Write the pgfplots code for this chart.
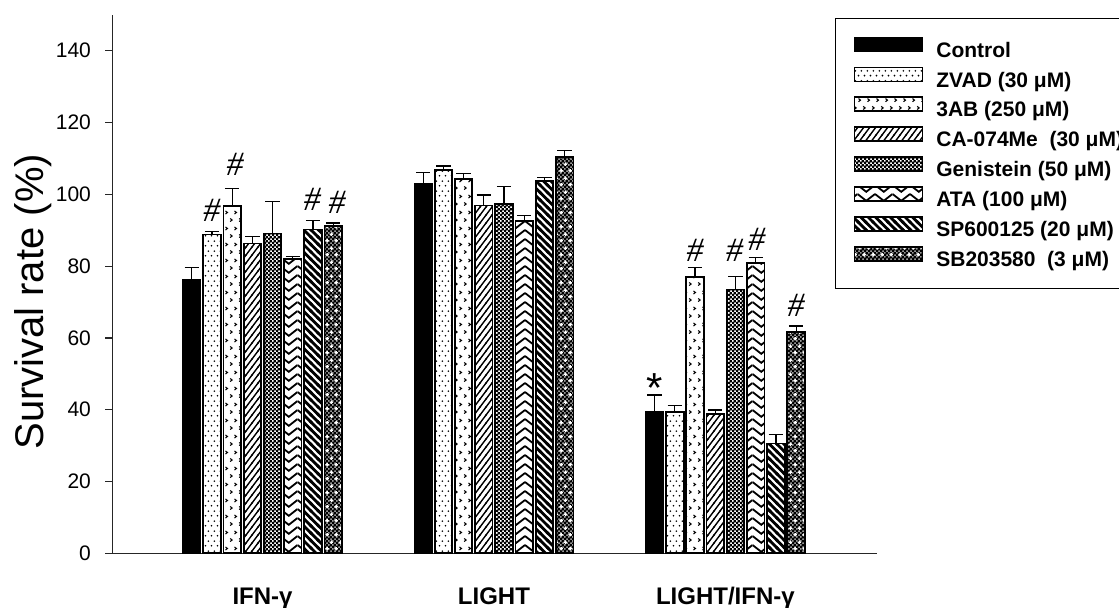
\documentclass[border=0pt]{standalone}
\usepackage{fontspec}
\setmainfont{Liberation Sans}
\newfontfamily\timesf{Liberation Serif}
\usepackage{pgfplots}
\pgfplotsset{compat=1.18}
\usetikzlibrary{patterns}

% ---------- patterns ----------
\pgfdeclarepatternformonly{zvaddots}{\pgfpointorigin}{\pgfpoint{3.2pt}{5pt}}{\pgfpoint{3.2pt}{5pt}}{%
  \pgfpathcircle{\pgfpoint{0.8pt}{1.25pt}}{0.5pt}%
  \pgfpathcircle{\pgfpoint{2.4pt}{3.75pt}}{0.5pt}%
  \pgfusepath{fill}}
\pgfdeclarepatternformonly{tabchev}{\pgfpointorigin}{\pgfpoint{4.4pt}{8pt}}{\pgfpoint{4.4pt}{8pt}}{%
  \pgfsetlinewidth{0.55pt}%
  \pgfpathmoveto{\pgfpoint{0.6pt}{2.9pt}}\pgfpathlineto{\pgfpoint{1.6pt}{2.1pt}}\pgfpathlineto{\pgfpoint{0.6pt}{1.3pt}}%
  \pgfpathmoveto{\pgfpoint{2.8pt}{6.9pt}}\pgfpathlineto{\pgfpoint{3.8pt}{6.1pt}}\pgfpathlineto{\pgfpoint{2.8pt}{5.3pt}}%
  \pgfusepath{stroke}}
\pgfdeclarepatternformonly{calines}{\pgfpoint{-0.5pt}{-0.5pt}}{\pgfpoint{3.5pt}{4.5pt}}{\pgfpoint{3pt}{4pt}}{%
  \pgfsetlinewidth{0.7pt}%
  \pgfpathmoveto{\pgfpoint{-0.3pt}{-0.4pt}}\pgfpathlineto{\pgfpoint{3.3pt}{4.4pt}}%
  \pgfusepath{stroke}}
\pgfdeclarepatternformonly{gencheck}{\pgfpointorigin}{\pgfpoint{2pt}{2pt}}{\pgfpoint{2pt}{2pt}}{%
  \pgfpathrectangle{\pgfpointorigin}{\pgfpoint{1.35pt}{1.35pt}}%
  \pgfpathrectangle{\pgfpoint{1pt}{1pt}}{\pgfpoint{1.35pt}{1.35pt}}%
  \pgfusepath{fill}}
\pgfdeclarepatternformonly{atav}{\pgfpoint{0pt}{-0.5pt}}{\pgfpoint{8.75pt}{5pt}}{\pgfpoint{8.75pt}{4.5pt}}{%
  \pgfsetlinewidth{0.9pt}%
  \pgfpathmoveto{\pgfpoint{0pt}{4pt}}\pgfpathlineto{\pgfpoint{4.375pt}{0.6pt}}\pgfpathlineto{\pgfpoint{8.75pt}{4pt}}%
  \pgfusepath{stroke}}
\pgfdeclarepatternformonly{splines}{\pgfpoint{-1pt}{-1pt}}{\pgfpoint{4.7pt}{4.7pt}}{\pgfpoint{3.7pt}{3.7pt}}{%
  \pgfsetlinewidth{1.4pt}%
  \pgfpathmoveto{\pgfpoint{-0.5pt}{4.2pt}}\pgfpathlineto{\pgfpoint{4.2pt}{-0.5pt}}%
  \pgfusepath{stroke}}
\pgfdeclarepatternformonly{sbstars}{\pgfpointorigin}{\pgfpoint{4.4pt}{7pt}}{\pgfpoint{4.4pt}{7pt}}{%
  \pgfsetlinewidth{0.7pt}%
  \pgfpathmoveto{\pgfpoint{0.2pt}{1.75pt}}\pgfpathlineto{\pgfpoint{2.0pt}{1.75pt}}%
  \pgfpathmoveto{\pgfpoint{1.1pt}{0.85pt}}\pgfpathlineto{\pgfpoint{1.1pt}{2.65pt}}%
  \pgfpathmoveto{\pgfpoint{2.4pt}{5.25pt}}\pgfpathlineto{\pgfpoint{4.2pt}{5.25pt}}%
  \pgfpathmoveto{\pgfpoint{3.3pt}{4.35pt}}\pgfpathlineto{\pgfpoint{3.3pt}{6.15pt}}%
  \pgfusepath{stroke}}

\pgfplotsset{
  mybar/.style={
    ybar, bar width=8.75pt, bar shift=0pt, draw=black, line width=0.9pt,
    error bars/.cd, y dir=plus, y explicit,
      error bar style={line width=0.6pt, black},
      error mark options={rotate=90, line width=0.6pt, black, mark size=3.6pt},
    /pgfplots/.cd,
    legend image code/.code={\draw[##1] (0pt,0pt) rectangle (34pt,7pt);}
  },
  annot/.style={draw=none, mark=none, forget plot,
    nodes near coords={#1},
    nodes near coords style={anchor=base, inner sep=0pt, yshift=0pt}}
}

\begin{document}
\begin{tikzpicture}
\useasboundingbox (-56.15pt,-26.85pt) rectangle (503.35pt,276.65pt);
\begin{axis}[
  at={(0,0)}, anchor=south west,
  scale only axis, width=382.35pt, height=269.25pt,
  xmin=-0.649, xmax=2.655, ymin=0, ymax=150,
  axis x line*=bottom, axis y line*=left,
  axis line style={line width=0.6pt, black!85},
  ytick={0,20,...,140},
  xtick={0,1,2},
  xticklabels={IFN-γ, LIGHT, LIGHT/IFN-γ},
  xtick style={draw=none},
  ytick style={line width=0.6pt, black!85},
  major tick length=3.5pt, tick align=outside,
  /pgf/number format/assume math mode=true,
  yticklabel style={font=\fontsize{10.5}{12}\selectfont, inner sep=0pt, xshift=-7pt},
  xticklabel style={font=\bfseries\fontsize{12}{14}\selectfont, anchor=base, inner sep=0pt, yshift=-21.9pt},
  ylabel={Survival rate (\%)},
  ylabel style={font=\fontsize{20}{24}\selectfont, at={(rel axis cs:-0.104,0.467)}, anchor=center},
  clip=false,
  legend cell align=left,
  legend style={at={(0.945,0.994)}, anchor=north west, draw=black, line width=0.6pt,
    font=\bfseries\fontsize{10.5}{12}\selectfont,
    inner xsep=9pt, inner ysep=9pt, row sep=2.7pt, column sep=6.5pt,
    nodes={inner sep=0pt, text height=7.6pt, text depth=2pt}},
]
% Control
\addplot[mybar, fill=black] coordinates {
  (-0.3056,76.1) +- (0,3.6)  (0.6944,103.0) +- (0,3.1)  (1.6944,39.3) +- (0,4.8)};
\addlegendentry{Control}
% ZVAD
\addplot[mybar, fill=white, postaction={pattern=zvaddots}] coordinates {
  (-0.2183,88.8) +- (0,0.8)  (0.7817,106.8) +- (0,1.1)  (1.7817,39.3) +- (0,1.8)};
\addlegendentry{ZVAD (30 μM)}
% 3AB
\addplot[mybar, fill=white, postaction={pattern=tabchev}] coordinates {
  (-0.1310,96.8) +- (0,4.9)  (0.8690,104.3) +- (0,1.4)  (1.8690,77.0) +- (0,2.7)};
\addlegendentry{3AB (250 μM)}
% CA-074Me
\addplot[mybar, fill=white, postaction={pattern=calines}] coordinates {
  (-0.0437,86.3) +- (0,1.9)  (0.9563,96.9) +- (0,2.9)  (1.9563,38.8) +- (0,1.1)};
\addlegendentry{CA-074Me\ \ (30 μM)}
% Genistein
\addplot[mybar, fill=white, postaction={pattern=gencheck}] coordinates {
  (0.0437,89.1) +- (0,8.8)  (1.0437,97.2) +- (0,4.9)  (2.0437,73.5) +- (0,3.5)};
\addlegendentry{Genistein (50 μM)}
% ATA
\addplot[mybar, fill=white, postaction={pattern=atav}] coordinates {
  (0.1310,82.0) +- (0,0.6)  (1.1310,92.6) +- (0,1.4)  (2.1310,80.9) +- (0,1.5)};
\addlegendentry{ATA (100 μM)}
% SP600125
\addplot[mybar, fill=white, postaction={pattern=splines}] coordinates {
  (0.2183,90.2) +- (0,2.6)  (1.2183,103.8) +- (0,0.8)  (2.2183,30.6) +- (0,2.5)};
\addlegendentry{SP600125 (20 μM)}
% SB203580
\addplot[mybar, fill=black!40, postaction={pattern=gencheck}, postaction={pattern=sbstars, pattern color=white}] coordinates {
  (0.3056,91.2) +- (0,0.8)  (1.3056,110.3) +- (0,1.8)  (2.3056,61.6) +- (0,1.7)};
\addlegendentry{SB203580\ \ (3 μM)}

% significance marks
\addplot[annot={\fontsize{17}{20}\timesf\itshape\#}] coordinates {
  (-0.2183,92.3) (-0.1180,105.1) (0.2150,95.6) (0.3220,94.6)
  (1.8690,81.2) (2.0400,81.2) (2.1360,84.3) (2.3056,65.9)};
\addplot[annot={\fontsize{21}{24}\selectfont *}] coordinates {(1.6944,42.0)};
\end{axis}
\end{tikzpicture}
\end{document}
